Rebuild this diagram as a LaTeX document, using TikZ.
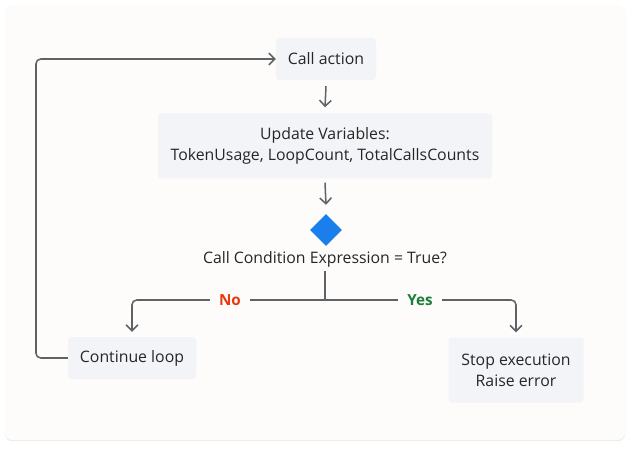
\documentclass[tikz,border=0pt]{standalone}
\usepackage{fontspec}
\setmainfont{Open Sans}
\usetikzlibrary{arrows.meta,shapes.geometric,shadows}
\definecolor{boxfill}{HTML}{F3F4F8}
\definecolor{linegray}{HTML}{5F6368}
\definecolor{cardfill}{HTML}{FDFCFB}
\definecolor{diamblue}{HTML}{1A7FEA}
\definecolor{nored}{HTML}{E8380D}
\definecolor{yesgreen}{HTML}{188038}
\begin{document}
\begin{tikzpicture}[x=0.03cm,y=-0.03cm]
% Styles
\tikzset{
  etape/.style={fill=boxfill,rounded corners=3pt,align=center,inner sep=0pt,
    font=\fontsize{13.5}{18}\selectfont,text=black!85},
  fleche/.style={draw=linegray,line width=1.3pt,-{Straight Barb[length=5pt,width=10pt]}},
  trait/.style={draw=linegray,line width=1.3pt,rounded corners=4pt},
  etiquette/.style={fill=cardfill,font=\fontsize{13}{15}\selectfont\bfseries,inner xsep=8pt}
}
% Cadre
\useasboundingbox (0,0) rectangle (632,450);
\fill[white] (0,0) rectangle (632,450);
\fill[cardfill,rounded corners=6pt,drop shadow={opacity=0.15,shadow xshift=0pt,shadow yshift=-1pt}] (5,5) rectangle (625,440);
% Noeuds
\node[etape,minimum width=100*0.03cm,minimum height=42*0.03cm] (appel) at (326,59) {Call action};
\node[etape,minimum width=334*0.03cm,minimum height=65*0.03cm] (maj) at (325,146) {Update Variables:\\TokenUsage, LoopCount, TotalCallsCounts};
\node[diamond,fill=diamblue,minimum width=32*0.03cm,minimum height=32*0.03cm,inner sep=0pt] (test) at (326,230) {};
\node[font=\fontsize{13.5}{15}\selectfont,text=black!85,inner sep=1pt] (cond) at (325,259) {Call Condition Expression = True?};
\node[etape,minimum width=128*0.03cm,minimum height=42*0.03cm] (boucle) at (132,358) {Continue loop};
\node[etape,minimum width=135*0.03cm,minimum height=65*0.03cm] (arret) at (516,370) {Stop execution\\Raise error};
\coordinate (fourche) at (325,300);
\coordinate (coinG) at (36,358);
\coordinate (coinH) at (36,59);
% Fleches
\draw[fleche] ([yshift=-6*0.03cm]appel.south) -- ([yshift=6*0.03cm]maj.north);
\draw[fleche] ([yshift=-4*0.03cm]maj.south) -- ([yshift=9*0.03cm]test.north);
\draw[trait] ([yshift=-3*0.03cm]cond.south) -- (fourche);
\draw[fleche,rounded corners=4pt] (fourche) -- (boucle.north |- fourche) -- ([yshift=5*0.03cm]boucle.north);
\draw[fleche,rounded corners=4pt] (fourche) -- (arret.north |- fourche) -- ([yshift=5*0.03cm]arret.north);
\node[etiquette,text=nored] (non) at (230,300) {No};
\node[etiquette,text=yesgreen] (oui) at (420,300) {Yes};
\draw[fleche,rounded corners=4pt] (boucle.west) -- (coinG) -- (coinH) -- (appel.west);
\end{tikzpicture}
\end{document}
